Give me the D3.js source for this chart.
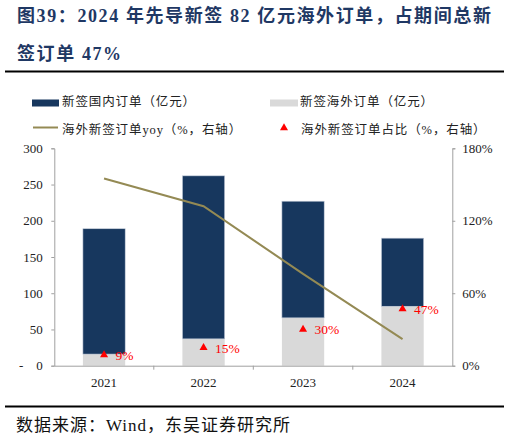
<!DOCTYPE html>
<html><head><meta charset="utf-8">
<script src="https://cdn.jsdelivr.net/npm/d3@7"></script>
<style>
html,body{margin:0;padding:0;background:#fff;}
svg{display:block;}
text{font-family:"Liberation Serif","Noto Sans CJK SC",serif;}
</style></head>
<body>
<script>
const years = ["2021","2022","2023","2024"];
const overseas = [16, 37, 66, 82];
const domestic = [173, 225, 161, 94];
const yoy = [1.55, 1.32, 0.76, 0.22];
const share = [0.09, 0.15, 0.30, 0.47];
const shareLabels = ["9%","15%","30%","47%"];
const leftTicks = [0,50,100,150,200,250,300];
const rightTicks = [0,0.6,1.2,1.8];

const W=510,H=439;
const NAVY="#17375E", GRAY="#D9D9D9", OLIVE="#948A54", RED="#FF0000", AXIS="#A0A0A0";
const svg=d3.select("body").append("svg").attr("width",W).attr("height",H);

// title
const title=svg.append("g").attr("fill","#1F3864").attr("font-weight","bold").attr("font-size",18).attr("letter-spacing",1.6);
title.append("text").attr("x",17).attr("y",22).text("图39：2024 年先导新签 82 亿元海外订单，占期间总新");
title.append("text").attr("x",17).attr("y",60).text("签订单 47%");
svg.append("line").attr("x1",5).attr("x2",504).attr("y1",71.5).attr("y2",71.5).attr("stroke","#000").attr("stroke-width",2);

const x=d3.scaleBand().domain(years).range([54.3,452.3]).paddingInner(0.575).paddingOuter(0.2875);
const y=d3.scaleLinear().domain([0,300]).range([365.7,148.3]);
const y2=d3.scaleLinear().domain([0,1.8]).range([365.7,148.3]);

// bars
const g=svg.append("g");
years.forEach((yr,i)=>{
  g.append("rect").attr("x",x(yr)).attr("width",x.bandwidth())
   .attr("y",y(overseas[i])).attr("height",y(0)-y(overseas[i])).attr("fill",GRAY);
  g.append("rect").attr("x",x(yr)).attr("width",x.bandwidth())
   .attr("y",y(overseas[i]+domestic[i])).attr("height",y(overseas[i])-y(overseas[i]+domestic[i]))
   .attr("fill",NAVY).attr("stroke","#c8d0dc").attr("stroke-width",0.6);
});

// left axis
const la=svg.append("g").attr("transform","translate(54.3,0)")
 .call(d3.axisLeft(y).tickValues(leftTicks).tickSize(3).tickPadding(8.5).tickFormat(d=>d));
la.selectAll("path,line").attr("stroke",AXIS);
la.selectAll("text").attr("font-size",13).attr("fill","#222").attr("font-family","Liberation Serif");
svg.append("text").attr("x",19).attr("y",y(0)+4.5).attr("font-size",13).attr("fill","#222").text("-");

// right axis
const ra=svg.append("g").attr("transform","translate(452.3,0)")
 .call(d3.axisRight(y2).tickValues(rightTicks).tickSize(3).tickPadding(7).tickFormat(d3.format(".0%")));
ra.selectAll("path,line").attr("stroke",AXIS);
ra.selectAll("text").attr("font-size",13).attr("fill","#222").attr("font-family","Liberation Serif");

// x axis
const xa=svg.append("g").attr("transform",`translate(0,${y(0)})`)
 .call(d3.axisBottom(x).tickSize(0).tickPadding(12));
xa.select("path").attr("stroke",AXIS);
xa.selectAll("text").attr("font-size",13).attr("fill","#222").attr("font-family","Liberation Serif");
years.slice(1).forEach(yr=>{
  const bx=x(yr)-x.step()*x.paddingInner()/2;
  svg.append("line").attr("x1",bx).attr("x2",bx).attr("y1",y(0)).attr("y2",y(0)+4).attr("stroke",AXIS);
});

// yoy line
const cx=yr=>x(yr)+x.bandwidth()/2;
svg.append("path").datum(yoy).attr("fill","none").attr("stroke",OLIVE).attr("stroke-width",2)
 .attr("d",d3.line().x((d,i)=>cx(years[i])).y(d=>y2(d)));

// share triangles
const tri=d3.symbol().type(d3.symbolTriangle).size(28);
share.forEach((s,i)=>{
  svg.append("path").attr("d",tri()).attr("fill",RED)
   .attr("transform",`translate(${cx(years[i])},${y2(s)})`);
  svg.append("text").attr("x",cx(years[i])+11.5).attr("y",y2(s)+5).attr("font-size",13.5)
   .attr("fill",RED).text(shareLabels[i]);
});

// legend
const lg=svg.append("g").attr("font-size",12.5).attr("fill","#222").attr("letter-spacing",0.9);
lg.append("rect").attr("x",32).attr("y",99.5).attr("width",27).attr("height",7).attr("fill",NAVY);
lg.append("text").attr("x",62).attr("y",106).text("新签国内订单（亿元）");
lg.append("rect").attr("x",270).attr("y",99.5).attr("width",28).attr("height",7).attr("fill",GRAY);
lg.append("text").attr("x",300).attr("y",106).text("新签海外订单（亿元）");
lg.append("line").attr("x1",33).attr("x2",58).attr("y1",127.5).attr("y2",127.5).attr("stroke",OLIVE).attr("stroke-width",2);
lg.append("text").attr("x",62).attr("y",134).text("海外新签订单yoy（%，右轴）");
lg.append("path").attr("d",tri()).attr("fill",RED).attr("transform","translate(284,128)");
lg.append("text").attr("x",301).attr("y",134).text("海外新签订单占比（%，右轴）");

// footer
svg.append("line").attr("x1",5).attr("x2",504).attr("y1",406.5).attr("y2",406.5).attr("stroke","#000").attr("stroke-width",2);
svg.append("text").attr("x",16).attr("y",431).attr("font-size",17).attr("letter-spacing",1).attr("fill","#111").text("数据来源：Wind，东吴证券研究所");
</script>
</body></html>
